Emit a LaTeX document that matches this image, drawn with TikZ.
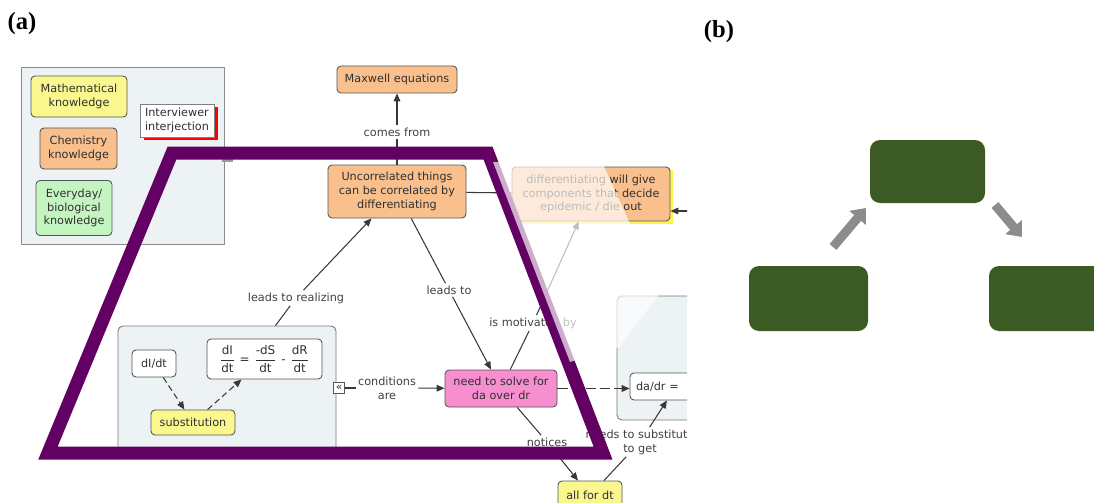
\documentclass[tikz,border=0pt]{standalone}
\usepackage{fontspec}
\usepackage{amsmath}
\usetikzlibrary{arrows.meta}
\newfontfamily\mapfont{DejaVu Sans}
\newfontfamily\labfont{Liberation Serif}
\definecolor{yel}{HTML}{FAF78F}
\definecolor{org}{HTML}{F9C08D}
\definecolor{grn}{HTML}{C4F5C0}
\definecolor{pnk}{HTML}{F78ED0}
\definecolor{cbg}{HTML}{EDF2F5}
\definecolor{pur}{HTML}{630063}
\definecolor{bord}{HTML}{555555}
\definecolor{txt}{HTML}{303030}
\definecolor{lbltxt}{HTML}{404040}
\definecolor{lin}{HTML}{383838}
\definecolor{bgreen}{HTML}{3C5A24}
\definecolor{agray}{HTML}{8C8C8C}
\begin{document}
\begin{tikzpicture}[x=0.2mm,y=-0.2mm,
  sz/.style n args={2}{minimum width=#1*0.2mm, minimum height=#2*0.2mm},
  cbox/.style={draw=bord, rounded corners=0.8mm, line width=0.5pt, font=\mapfont\fontsize{6.4}{7.9}\selectfont, text=txt, align=center, inner sep=0pt},
  contbox/.style={draw=bord!80, fill=cbg, rounded corners=1mm, line width=0.5pt, inner sep=0pt},
  lbl/.style={font=\mapfont\fontsize{6.4}{7.9}\selectfont, text=lbltxt, align=center, inner sep=1.2pt},
  conn/.style={draw=lin, line width=0.6pt},
  arr/.style={conn, -{Triangle[length=4.5pt,width=3.8pt]}},
  darr/.style={arr, dash pattern=on 3.5pt off 2pt},
  gbox/.style={fill=bgreen, rounded corners=2mm, draw=none, inner sep=0pt},
  barr/.style={draw=agray, line width=1.8mm, -{Triangle[length=2.6mm,width=4.2mm]}},
  plab/.style={font=\labfont\bfseries\fontsize{14}{16}\selectfont, inner sep=0pt}
]
\useasboundingbox (0,0) rectangle (1094,503);
\clip (0,0) rectangle (1094,503);

% panel labels
\node[plab] (la) at (22,24) {(a)};
\node[plab] (lb) at (719,32) {(b)};

\begin{scope}
\clip (0,0) rectangle (687,503);
% legend
\node[draw=black!45, fill=cbg, line width=0.5pt, sz={203}{177}, inner sep=0pt] (legend) at (122.5,155.5) {};
\node[cbox, fill=yel, sz={96}{41}] (math) at (79,96.5) {Mathematical\\knowledge};
\node[cbox, fill=org, sz={77}{41}] (chem) at (78.5,148.5) {Chemistry\\knowledge};
\node[cbox, fill=grn, sz={76}{55}] (every) at (74,208) {Everyday/\\biological\\knowledge};
\fill[red] (144,107) rectangle (218,140);
\node[cbox, rounded corners=0pt, fill=white, sz={74}{33}, align=left, draw=black!50] (interv) at (177,120.5) {Interviewer\\interjection};
\fill[black!40] (222,157) rectangle (233,162);

% containers
\node[contbox, sz={218}{130}] (c1) at (227,391) {};
\node[contbox, sz={110}{124}] (c2) at (672,358) {};

% concept nodes
\node[cbox, fill=org, sz={120}{27}] (maxwell) at (397,79.5) {Maxwell equations};
\node[cbox, fill=org, sz={138}{53}] (uncorr) at (397,191.5) {Uncorrelated things\\can be correlated by\\differentiating};
\fill[yellow!70] (514,170) rectangle (673,224);
\node[cbox, fill=org, sz={158}{54}] (diff) at (591,194) {differentiating will give\\components that decide\\epidemic / die out};
\node[cbox, fill=white, sz={44}{27}] (dIdt) at (154,363.5) {dI/dt};
\node[cbox, fill=white, sz={115}{40}, font=\mapfont\fontsize{6.8}{8}\selectfont] (eq) at (264.5,359) {$\dfrac{\text{dI}}{\text{dt}}\;\text{=}\;\dfrac{\text{-dS}}{\text{dt}}\;\text{-}\;\dfrac{\text{dR}}{\text{dt}}$};
\node[cbox, fill=yel, sz={84}{25}] (subst) at (193,422.5) {substitution};
\node[cbox, fill=white, rounded corners=0pt, sz={11}{11}, font=\mapfont\fontsize{6}{7}\selectfont] (icon) at (339,388) {«};
\node[cbox, fill=pnk, sz={112}{37}] (pink) at (501,388.5) {need to solve for\\da over dr};
\node[cbox, fill=white, sz={92}{27}, align=left, text width=80*0.2mm] (dadr) at (676,386.5) {da/dr =};
\node[cbox, fill=yel, sz={64}{29}] (allfor) at (590,495.5) {all for dt};

% link labels
\node[lbl] (comes) at (397,132) {comes from};
\node[lbl] (lr) at (296,298) {leads to realizing};
\node[lbl] (lt) at (449,290) {leads to};
\node[lbl] (mot) at (533,323) {is motivated by};
\node[lbl] (cond) at (387,388) {conditions\\are};
\node[lbl] (not) at (547,442) {notices};
\node[lbl] (needs) at (640,442) {needs to substitute\\to get};
\coordinate (ein) at (695,211);

% connectors
\draw[conn] (uncorr) -- (comes);
\draw[arr] (comes) -- (maxwell);
\draw[conn] (lr) -- (c1);
\draw[arr] (lr) -- (uncorr);
\draw[conn] (uncorr) -- (lt);
\draw[arr] (lt) -- (pink);
\draw[conn] (pink) -- (mot);
\draw[arr] (mot) -- (diff);
\draw[conn] (uncorr) -- (diff);
\draw[arr] (ein) -- (ein -| diff.east);
\draw[conn] (icon) -- (cond);
\draw[arr] (cond) -- (pink);
\draw[darr, dash pattern=on 6pt off 2pt] (pink) -- (pink -| dadr.west);
\draw[darr] (dIdt) -- (subst);
\draw[darr] (subst) -- (eq);
\draw[conn] (pink) -- (not);
\draw[arr] (not) -- (allfor);
\draw[conn] (allfor) -- (needs);
\draw[arr] (needs) -- (dadr);

% purple trapezoid
\draw[pur, line width=2.6mm, line join=miter] (172,153) -- (488,153) -- (603,453) -- (48,453) -- cycle;
% fading overlay
\fill[white, opacity=0.68] (493,162) -- (602,162) -- (661,292) -- (619,347) -- (570,362) -- cycle;
\end{scope}

% panel (b)
\node[gbox, sz={115}{63}] (b2) at (927.5,171.5) {};
\node[gbox, sz={119}{65}] (b1) at (808.5,298.5) {};
\node[gbox, sz={121}{65}] (b3) at (1049.5,298.5) {};
\coordinate (a1s) at (833,247);
\coordinate (a1e) at (866,208);
\coordinate (a2s) at (995,205);
\coordinate (a2e) at (1022,237);
\draw[barr] (a1s) -- (a1e);
\draw[barr] (a2s) -- (a2e);
\end{tikzpicture}
\end{document}
